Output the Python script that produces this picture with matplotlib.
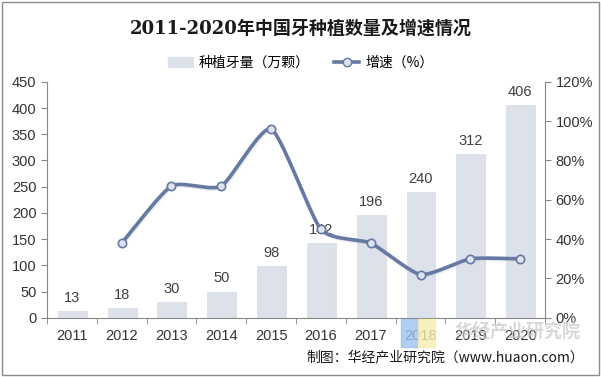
import matplotlib.pyplot as plt
import numpy as np
from matplotlib.patches import Rectangle
from matplotlib.lines import Line2D

plt.rcParams['font.family'] = ['Liberation Sans', 'Noto Sans CJK SC', 'DejaVu Sans']

years = ['2011', '2012', '2013', '2014', '2015', '2016', '2017', '2018', '2019', '2020']
implants = [13, 18, 30, 50, 98, 142, 196, 240, 312, 406]
growth = [None, 38, 67, 67, 96, 45, 38, 22, 30, 30]

bar_color = '#DDE1EA'
line_color = '#6679A3'


def smooth(xs, ys, n=30):
    # catmull-rom style curve through the points, like excel's smoothed line
    xs = np.asarray(xs, float)
    ys = np.asarray(ys, float)
    px = np.concatenate([[2 * xs[0] - xs[1]], xs, [2 * xs[-1] - xs[-2]]])
    py = np.concatenate([[2 * ys[0] - ys[1]], ys, [2 * ys[-1] - ys[-2]]])
    outx, outy = [], []
    for i in range(1, len(px) - 2):
        t = np.linspace(0, 1, n)
        for p, out in ((px, outx), (py, outy)):
            p0, p1, p2, p3 = p[i - 1], p[i], p[i + 1], p[i + 2]
            m1 = (p2 - p0) / 2 * 0.6
            m2 = (p3 - p1) / 2 * 0.6
            h00 = 2 * t**3 - 3 * t**2 + 1
            h10 = t**3 - 2 * t**2 + t
            h01 = -2 * t**3 + 3 * t**2
            h11 = t**3 - t**2
            out.extend(h00 * p1 + h10 * m1 + h01 * p2 + h11 * m2)
    return np.array(outx), np.array(outy)


fig = plt.figure(figsize=(6.01, 3.77), dpi=100)
fig.patches.append(Rectangle((0.004, 0.004), 0.992, 0.99, transform=fig.transFigure,
                             fill=False, edgecolor='#8C8C8C', lw=1.0))
ax = fig.add_axes([0.078, 0.157, 0.829, 0.626])
x = np.arange(len(years))

# shadow then bar
ax.bar(x + 0.04, implants, width=0.56, color='#C9CBD0', alpha=0.6, zorder=1)
ax.bar(x, implants, width=0.56, color=bar_color, zorder=2)
for xi, v in zip(x, implants):
    ax.text(xi, v + 12, str(v), ha='center', va='bottom', fontsize=10.5, color='#404040', zorder=5)

ax.set_xlim(-0.5, len(years) - 0.5)
ax.set_ylim(0, 450)
ax.set_yticks(range(0, 451, 50))
ax.set_xticks(x)
ax.set_xticklabels(years)
ax.set_xticks(np.arange(-0.5, len(years), 1), minor=True)
ax.tick_params(axis='x', which='major', length=0, pad=8, labelsize=10.5, colors='#333333')
ax.tick_params(axis='x', which='minor', length=4, color='#888888')
ax.tick_params(axis='y', labelsize=10.5, colors='#333333', length=4, color='#888888')
for s in ['top', 'right']:
    ax.spines[s].set_visible(False)
for s in ['left', 'bottom']:
    ax.spines[s].set_color('#888888')

ax2 = ax.twinx()
gx = [xi for xi, g in zip(x, growth) if g is not None]
gy = [g for g in growth if g is not None]
sx, sy = smooth(gx, gy)
ax2.plot(sx + 0.02, np.array(sy) - 0.8, color='#C4C8D0', lw=2.4, alpha=0.35, zorder=1)
ax2.plot(sx, sy, color=line_color, lw=2.6, zorder=2)
ax2.plot(gx, gy, 'o', ms=6, mfc='#DDE3EE', mec=line_color, mew=1.2, zorder=3)
ax2.set_ylim(0, 120)
ax2.set_yticks(range(0, 121, 20))
ax2.set_yticklabels([f'{v}%' for v in range(0, 121, 20)])
ax2.tick_params(axis='y', labelsize=10.5, colors='#333333', length=4, color='#888888')
for s in ['top', 'left', 'bottom']:
    ax2.spines[s].set_visible(False)
ax2.spines['right'].set_color('#888888')
ax2.set_xlim(-0.5, len(years) - 0.5)

fig.text(0.5, 0.925, '2011-2020年中国牙种植数量及增速情况', ha='center', va='center',
         fontsize=13, fontweight='bold', color='#1a1a1a',
         family=['DejaVu Serif', 'Noto Sans CJK SC'])

handles = [Rectangle((0, 0), 1, 1, color=bar_color),
           Line2D([], [], color=line_color, lw=2.6, marker='o', ms=6, mfc='#DDE3EE', mec=line_color)]
fig.legend(handles, ['种植牙量（万颗）', '增速（%）'], loc='center', bbox_to_anchor=(0.5, 0.833),
           ncol=2, frameon=False, handlelength=1.8, handletextpad=0.4, columnspacing=1.8,
           prop={'family': ['Noto Sans CJK SC'], 'size': 10})

# watermark
fig.text(0.757, 0.12, '华经产业研究院', fontsize=13, color='#C8C8C8', alpha=0.7,
         family=['Noto Sans CJK SC'], fontweight='bold', ha='left', va='center')
fig.patches.append(Rectangle((0.668, 0.08), 0.028, 0.075, transform=fig.transFigure,
                             color='#9CC3F0', alpha=0.8))
fig.patches.append(Rectangle((0.696, 0.08), 0.028, 0.075, transform=fig.transFigure,
                             color='#F8EDB0', alpha=0.8))

fig.text(0.972, 0.052, '制图：华经产业研究院（www.huaon.com）', ha='right', va='center',
         fontsize=10, color='#1a1a1a', family=['Noto Sans CJK SC'])

fig.savefig('out.png', dpi=100)
